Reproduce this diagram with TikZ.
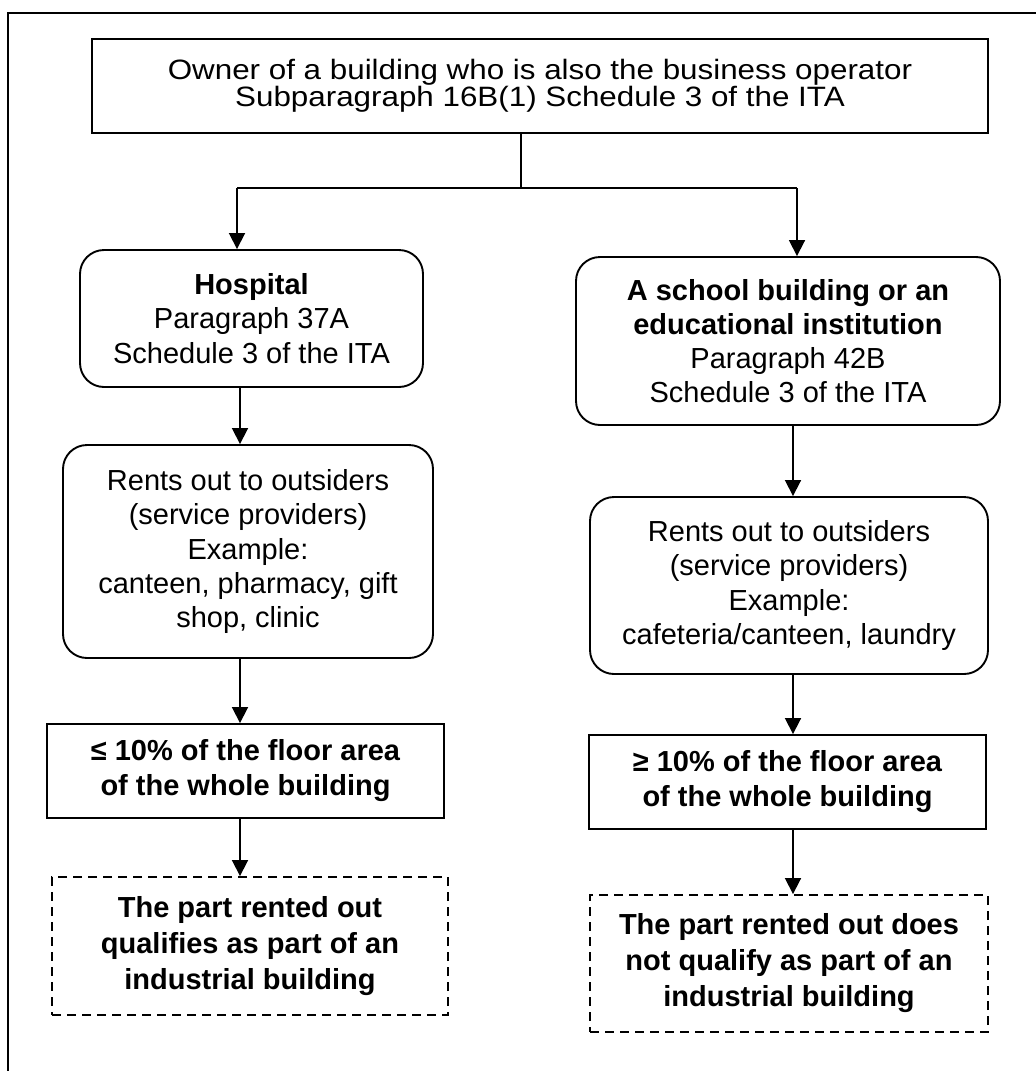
\documentclass[tikz,border=0pt]{standalone}
\usepackage{fontspec}
\setmainfont{Liberation Sans}
\newfontfamily\ownerfont{Liberation Sans}[FakeStretch=1.12]
\usetikzlibrary{arrows.meta}

\tikzset{
  box/.style={draw, line width=1.9pt, inner sep=0pt, align=center, font=\fontsize{29}{34.2}\selectfont},
  roundbox/.style={box, rounded corners=24pt},
  pctbox/.style={box, font=\bfseries\fontsize{29}{35}\selectfont},
  resultbox/.style={box, dash pattern=on 9pt off 6pt, font=\bfseries\fontsize{29}{36}\selectfont},
  link/.style={line width=1.8pt, -{Triangle[length=16pt,width=16pt]}},
}

\begin{document}
\begin{tikzpicture}[x=1pt,y=-1pt]
\useasboundingbox (0,0) rectangle (1036,1071);
\draw[line width=1.9pt] (8,1090) -- (8,13) -- (1050,13);

\node[box, minimum width=896pt, minimum height=94pt, font=\ownerfont\fontsize{28}{26.5}\selectfont] (owner) at (540,86) {Owner of a building who is also the business operator\\Subparagraph 16B(1) Schedule 3 of the ITA};

\node[roundbox, minimum width=343pt, minimum height=137pt] (hosp) at (251.5,318.5) {\textbf{Hospital}\\Paragraph 37A\\Schedule 3 of the ITA};
\node[roundbox, minimum width=370pt, minimum height=213pt] (rentsL) at (248,551.5) {Rents out to outsiders\\(service providers)\\Example:\\canteen, pharmacy, gift\\shop, clinic};
\node[pctbox, minimum width=397pt, minimum height=94pt] (pctL) at (245.5,771) {≤ 10\% of the floor area\\of the whole building};
\node[resultbox, minimum width=396pt, minimum height=138pt] (resL) at (250,946) {The part rented out\\qualifies as part of an\\industrial building};

\node[roundbox, minimum width=424pt, minimum height=168pt] (school) at (788,341) {\textbf{A school building or an}\\\textbf{educational institution}\\Paragraph 42B\\Schedule 3 of the ITA};
\node[roundbox, minimum width=398pt, minimum height=177pt] (rentsR) at (789,585.5) {Rents out to outsiders\\(service providers)\\Example:\\cafeteria/canteen, laundry};
\node[pctbox, minimum width=397pt, minimum height=94pt] (pctR) at (787.5,782) {≥ 10\% of the floor area\\of the whole building};
\node[resultbox, minimum width=398pt, minimum height=137pt] (resR) at (789,963.5) {The part rented out does\\not qualify as part of an\\industrial building};

\coordinate (split) at (521,188);
\coordinate (jl) at (237,188);
\coordinate (jr) at (797,188);
\coordinate (colL) at (240,0);
\coordinate (colR) at (793,0);

\draw[line width=1.8pt] (owner.south -| split) -- (split);
\draw[line width=1.8pt] (jl) -- (jr);
\draw[link] (jl) -- (jl |- hosp.north);
\draw[link] (jr) -- (jr |- school.north);
\draw[link] (hosp.south -| colL) -- (rentsL.north -| colL);
\draw[link] (rentsL.south -| colL) -- (pctL.north -| colL);
\draw[link] (pctL.south -| colL) -- (resL.north -| colL);
\draw[link] (school.south -| colR) -- (rentsR.north -| colR);
\draw[link] (rentsR.south -| colR) -- (pctR.north -| colR);
\draw[link] (pctR.south -| colR) -- (resR.north -| colR);
\end{tikzpicture}
\end{document}
